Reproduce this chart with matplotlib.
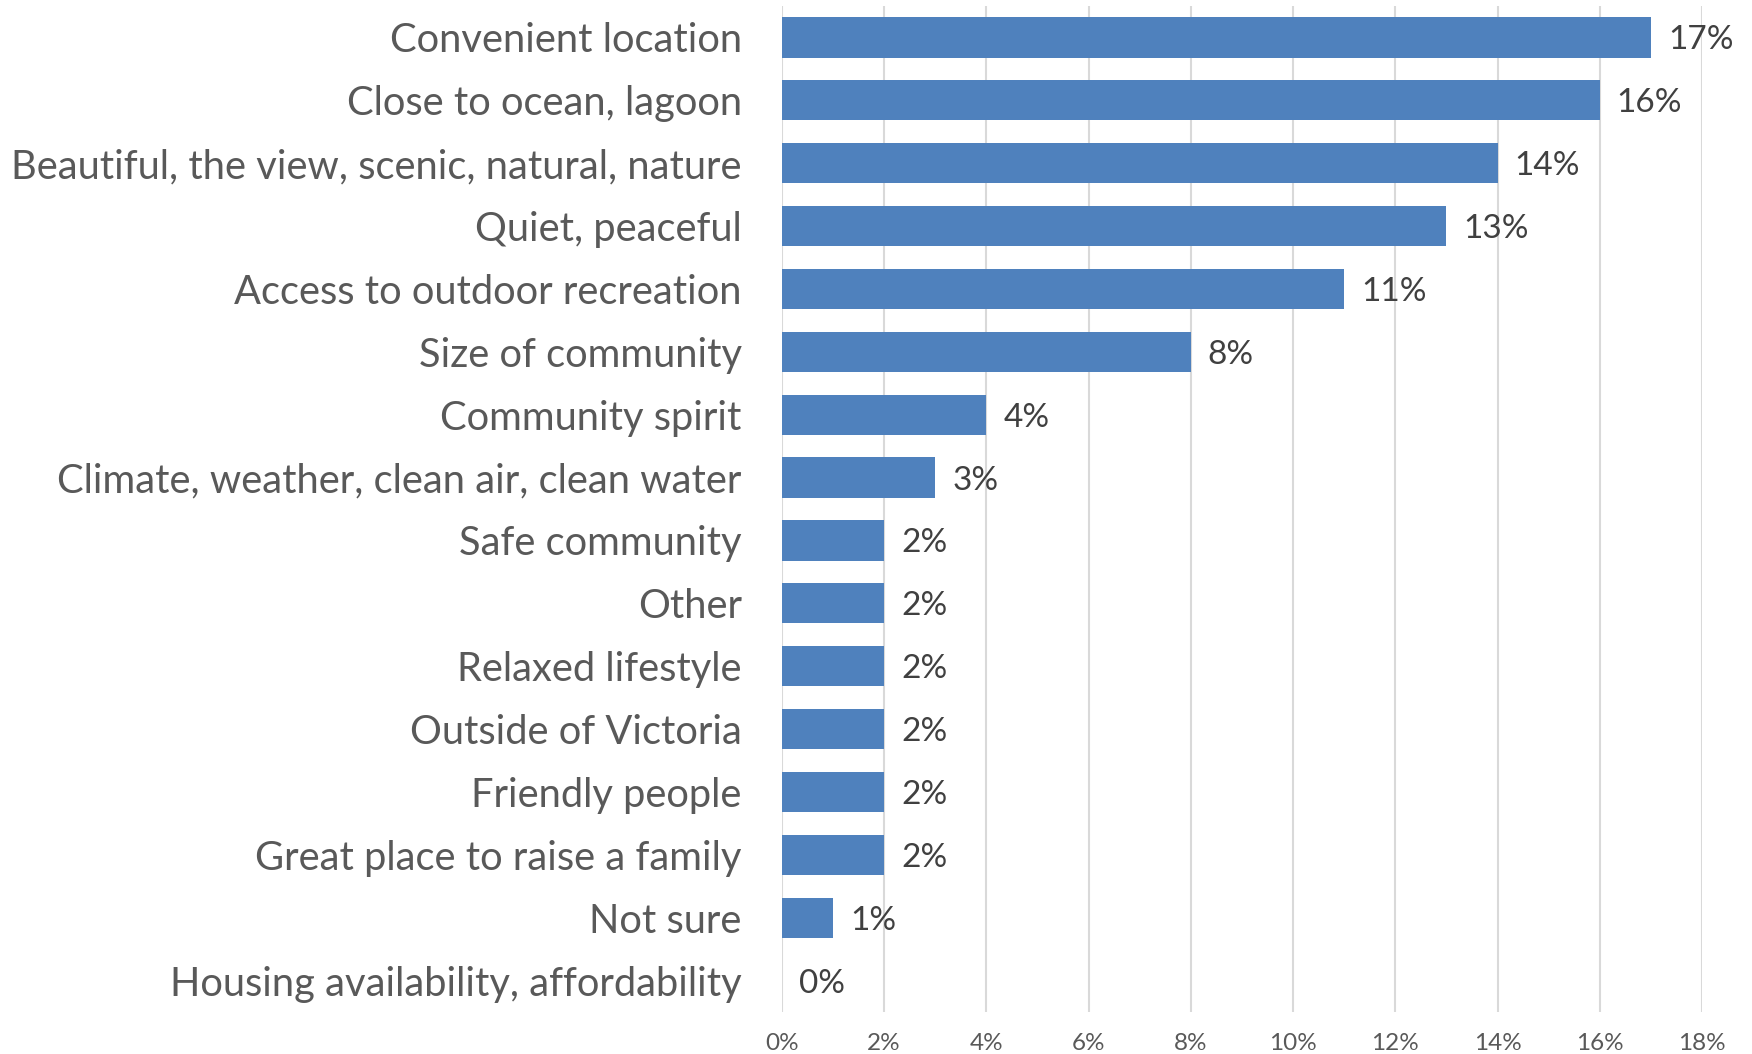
import matplotlib
matplotlib.use("Agg")
import matplotlib.pyplot as plt
import numpy as np

# Data
categories = [
    "Convenient location",
    "Close to ocean, lagoon",
    "Beautiful, the view, scenic, natural, nature",
    "Quiet, peaceful",
    "Access to outdoor recreation",
    "Size of community",
    "Community spirit",
    "Climate, weather, clean air, clean water",
    "Safe community",
    "Other",
    "Relaxed lifestyle",
    "Outside of Victoria",
    "Friendly people",
    "Great place to raise a family",
    "Not sure",
    "Housing availability, affordability",
]
values = [17, 16, 14, 13, 11, 8, 4, 3, 2, 2, 2, 2, 2, 2, 1, 0]
xticks = [0, 2, 4, 6, 8, 10, 12, 14, 16, 18]

plt.rcParams['font.family'] = ['Lato', 'DejaVu Sans']

fig = plt.figure(figsize=(17.52, 10.54), dpi=100)
ax = fig.add_axes([0.4463, 0.0398, 0.9715 - 0.4463, 0.9943 - 0.0398])

y = np.arange(len(categories))
ax.barh(y, values, height=0.64, color='#4F81BD', zorder=3)

for yi, v in zip(y, values):
    ax.text(v + 0.33, yi, '%d%%' % v, va='center_baseline', ha='left',
            fontsize=24, color='#404040')

ax.set_xlim(0, 18)
ax.set_ylim(len(categories) - 0.5, -0.5)
ax.set_yticks(y)
ax.set_yticklabels(categories, fontsize=28.7, color='#595959')
ax.set_xticks(xticks)
ax.set_xticklabels(['%d%%' % t for t in xticks], fontsize=17.5, color='#595959')
ax.tick_params(axis='y', length=0, pad=29)
ax.tick_params(axis='x', length=0, pad=15)
ax.grid(axis='x', color='#D9D9D9', linewidth=1.5, zorder=0)
for s in ax.spines.values():
    s.set_visible(False)

fig.savefig("out.png", dpi=100)
